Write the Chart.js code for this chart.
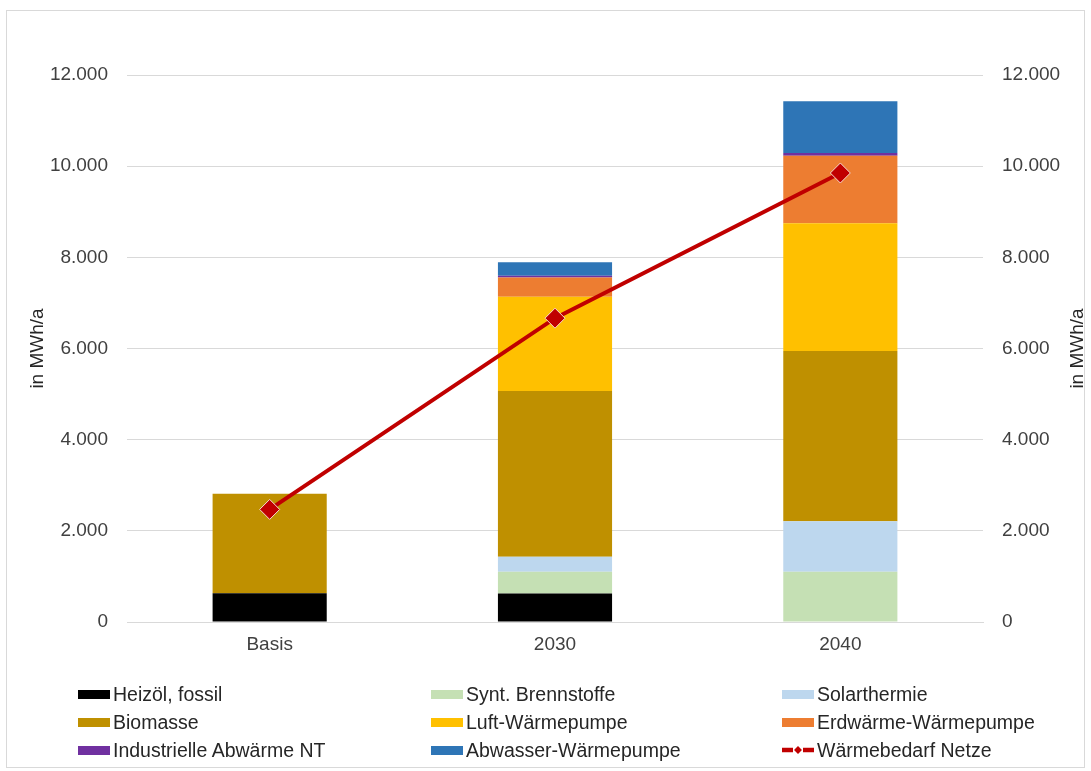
<!DOCTYPE html>
<html>
<head>
<meta charset="utf-8">
<script src="https://cdn.jsdelivr.net/npm/chart.js@4.4.1/dist/chart.umd.min.js"></script>
<style>
  html, body { margin: 0; padding: 0; background: #fff; }
  #wrap { position: relative; width: 1091px; height: 771px; }
  #frame { position: absolute; left: 6px; top: 10px; width: 1079px; height: 758px; border: 1px solid #d9d9d9; box-sizing: border-box; pointer-events: none; }
  #legend { position: absolute; left: 0; top: 0; width: 1091px; height: 771px; pointer-events: none;
            font-family: "Liberation Sans", Arial, sans-serif; font-size: 19.5px; color: #262626; }
  .li { position: absolute; display: flex; align-items: center; height: 24px; white-space: nowrap; }
  .sw { width: 32px; height: 9px; margin-right: 3px; flex: none; }
  .lsw { width: 32px; height: 12px; margin-right: 3px; flex: none; }
  .lsw svg { display: block; }
  canvas { position: absolute; left: 0; top: 0; }
</style>
</head>
<body>
<div id="wrap">
  <canvas id="c" width="1091" height="771"></canvas>
  <div id="frame"></div>
  <div id="legend"></div>
</div>
<script>
const categories = ["Basis", "2030", "2040"];
const heizoel   = [630, 625, 0];
const synt      = [0, 475, 1100];
const solar     = [0, 330, 1110];
const biomasse  = [2185, 3640, 3735];
const luft      = [0, 2065, 2805];
const erdwaerme = [0, 425, 1480];
const industrie = [0, 37, 60];
const abwasser  = [0, 293, 1135];
const waermebedarf = [2470, 6665, 9850];
const yTicks = [0, 2000, 4000, 6000, 8000, 10000, 12000];
const axisTitle = "in MWh/a";

const barSeries = [
  { label: "Heizöl, fossil", data: heizoel, color: "#000000" },
  { label: "Synt. Brennstoffe", data: synt, color: "#C5E0B4" },
  { label: "Solarthermie", data: solar, color: "#BDD7EE" },
  { label: "Biomasse", data: biomasse, color: "#BF9000" },
  { label: "Luft-Wärmepumpe", data: luft, color: "#FFC000" },
  { label: "Erdwärme-Wärmepumpe", data: erdwaerme, color: "#ED7D31" },
  { label: "Industrielle Abwärme NT", data: industrie, color: "#7030A0" },
  { label: "Abwasser-Wärmepumpe", data: abwasser, color: "#2E75B6" }
];
const lineLabel = "Wärmebedarf Netze";

const fmt = v => v === 0 ? "0" : v.toLocaleString("de-DE");
const FONT = "'Liberation Sans', Arial, sans-serif";
const TICK = "#404040";

const datasets = [
  {
    type: "line",
    label: lineLabel,
    data: waermebedarf,
    borderColor: "#C00000",
    backgroundColor: "#C00000",
    borderWidth: 4,
    pointStyle: "rectRot",
    pointRadius: 10,
    pointHoverRadius: 10,
    pointBackgroundColor: "#C00000",
    pointBorderColor: "#F4D9D0",
    pointBorderWidth: 1,
    yAxisID: "y",
    order: 0,
    tension: 0
  },
  ...barSeries.map(s => ({
    type: "bar",
    label: s.label,
    data: s.data,
    backgroundColor: s.color,
    borderWidth: 0,
    stack: "s",
    yAxisID: "y",
    order: 1,
    barPercentage: 0.40,
    categoryPercentage: 1.0
  }))
];

const rightTitle = {
  id: "rightTitle",
  afterDraw(chart) {
    const ctx = chart.ctx;
    const a = chart.chartArea;
    ctx.save();
    ctx.fillStyle = "#262626";
    ctx.font = "19px " + FONT;
    ctx.textAlign = "center";
    ctx.textBaseline = "middle";
    ctx.translate(1078, (a.top + a.bottom) / 2);
    ctx.rotate(-Math.PI / 2);
    ctx.fillText(axisTitle, 0, 0);
    ctx.restore();
  }
};

const chart = new Chart(document.getElementById("c"), {
  data: { labels: categories, datasets },
  plugins: [rightTitle],
  options: {
    responsive: false,
    animation: false,
    devicePixelRatio: 1,
    layout: { padding: { top: 75, left: 0, right: 0, bottom: 110 } },
    plugins: { legend: { display: false }, tooltip: { enabled: false } },
    scales: {
      x: {
        stacked: true,
        grid: { display: false, drawTicks: false },
        border: { display: true, color: "#d9d9d9", width: 1 },
        ticks: { color: TICK, font: { family: FONT, size: 19 }, padding: 11 },
        afterFit: s => { s.height = 39; }
      },
      y: {
        stacked: true,
        position: "left",
        min: 0, max: 12000,
        afterBuildTicks: s => { s.ticks = yTicks.map(v => ({ value: v })); },
        ticks: { color: TICK, font: { family: FONT, size: 19 }, padding: 19, callback: v => fmt(v) },
        grid: { color: "#d9d9d9", lineWidth: 1, drawTicks: false },
        border: { display: false },
        title: { display: true, text: axisTitle, color: "#262626", font: { family: FONT, size: 19 }, padding: { top: 26, bottom: 0 } },
        afterFit: s => { s.width = 127; }
      },
      y2: {
        position: "right",
        min: 0, max: 12000,
        afterBuildTicks: s => { s.ticks = yTicks.map(v => ({ value: v })); },
        ticks: { color: TICK, font: { family: FONT, size: 19 }, padding: 19, callback: v => fmt(v) },
        grid: { display: false, drawTicks: false },
        border: { display: false },
        title: { display: false },
        afterFit: s => { s.width = 108; }
      }
    }
  }
});

// HTML legend built from the series, 3 columns
(function buildLegend() {
  const order = [...barSeries.map(s => ({ label: s.label, color: s.color, line: false })),
                 { label: lineLabel, color: "#C00000", line: true }];
  const colX = [78, 431, 782];
  const rowY = [682, 710, 738];
  const host = document.getElementById("legend");
  order.forEach((it, i) => {
    const el = document.createElement("div");
    el.className = "li";
    el.style.left = colX[i % 3] + "px";
    el.style.top = rowY[Math.floor(i / 3)] + "px";
    const sw = document.createElement("div");
    if (!it.line) {
      sw.className = "sw";
      sw.style.background = it.color;
    } else {
      sw.className = "lsw";
      sw.innerHTML = '<svg width="32" height="12"><line x1="0" y1="6" x2="11" y2="6" stroke="#C00000" stroke-width="4.5"/><line x1="21" y1="6" x2="32" y2="6" stroke="#C00000" stroke-width="4.5"/><rect x="13.2" y="3.2" width="5.6" height="5.6" fill="#C00000" transform="rotate(45 16 6)"/></svg>';
    }
    el.appendChild(sw);
    const t = document.createElement("span");
    t.textContent = it.label;
    el.appendChild(t);
    host.appendChild(el);
  });
})();
</script>
</body>
</html>
